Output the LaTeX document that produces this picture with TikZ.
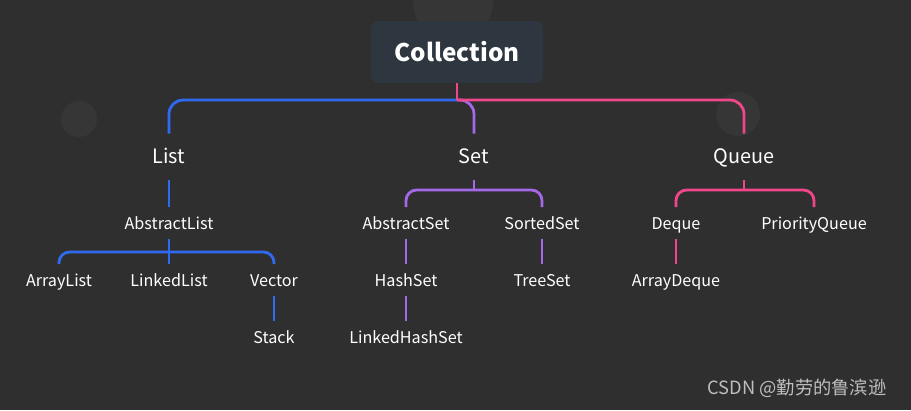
\documentclass[tikz,border=0pt]{standalone}
\usepackage{fontspec}
\setmainfont{Noto Sans CJK SC}
\definecolor{bgdark}{HTML}{2F2F2F}
\definecolor{blob}{HTML}{363636}
\definecolor{boxgrey}{HTML}{2E3740}
\definecolor{listblue}{HTML}{2F6BF0}
\definecolor{setpurple}{HTML}{A468E8}
\definecolor{queuepink}{HTML}{F0468A}
\definecolor{credgrey}{HTML}{BEBEBE}
\begin{document}
\begin{tikzpicture}[x=0.02cm,y=-0.02cm,
    topbox/.style={fill=boxgrey,rounded corners=4pt,minimum width=3.44cm,minimum height=1.24cm,
      text=white,font=\fontsize{13.8}{16}\selectfont\bfseries},
    kind/.style={text=white,inner sep=0pt,minimum height=0.92cm,text height=0.9em,text depth=0.2em,
      font=\fontsize{11.3}{14}\selectfont},
    cls/.style={text=white,inner sep=0pt,minimum height=0.62cm,text height=0.9em,text depth=0.2em,
      font=\fontsize{9.2}{12}\selectfont},
    link/.style={line width=1.6pt},
    bigcorner/.style={link,rounded corners=8pt},
    corner/.style={link,rounded corners=6pt}]
  % background and faint blobs
  \fill[bgdark](0,0) rectangle (911,410);
  \useasboundingbox (0,0) rectangle (911,410);
  \fill[blob](453,2) circle [radius=40];
  \fill[blob](79,119) circle [radius=18];
  \fill[blob](738,114) circle [radius=22];

  % nodes
  \node[topbox] (coll) at (457,52) {Collection};
  \node[kind] (list) at (169,157) {List};
  \node[kind] (set) at (474,157) {Set};
  \node[kind] (queue) at (744,157) {Queue};

  \node[cls] (abslist) at (169,223) {AbstractList};
  \node[cls] (arrlist) at (59,280) {ArrayList};
  \node[cls] (lnklist) at (169,280) {LinkedList};
  \node[cls] (vector) at (274,280) {Vector};
  \node[cls] (stack) at (274,337) {Stack};

  \node[cls] (absset) at (406,223) {AbstractSet};
  \node[cls] (sortset) at (542,223) {SortedSet};
  \node[cls] (hashset) at (406,280) {HashSet};
  \node[cls] (lnkhash) at (406,337) {LinkedHashSet};
  \node[cls] (treeset) at (542,280) {TreeSet};

  \node[cls] (deque) at (676,223) {Deque};
  \node[cls] (prioq) at (814,223) {PriorityQueue};
  \node[cls] (arrdeque) at (676,280) {ArrayDeque};

  \node[text=credgrey,font=\fontsize{10.4}{12}\selectfont] (credit) at (797,388) {CSDN @勤劳的鲁滨逊};

  % joints
  \coordinate (j0) at (457,100);
  \coordinate (j1) at (169,252);
  \coordinate (j2) at (474,190);
  \coordinate (j3) at (744,190);

  % top level
  \draw[bigcorner,listblue](j0) -| (list.north);
  \draw[bigcorner,setpurple](j0) -| (set.north);
  \draw[link,queuepink](coll.south) -- (j0);
  \draw[bigcorner,queuepink](j0) -| (queue.north);

  % list branch
  \draw[link,listblue](list.south) -- (abslist.north);
  \draw[link,listblue](abslist.south) -- (lnklist.north);
  \draw[corner,listblue](j1) -| (arrlist.north);
  \draw[corner,listblue](j1) -| (vector.north);
  \draw[link,listblue](vector.south) -- (stack.north);

  % set branch
  \draw[link,setpurple](set.south) -- (j2);
  \draw[corner,setpurple](j2) -| (absset.north);
  \draw[corner,setpurple](j2) -| (sortset.north);
  \draw[link,setpurple](absset.south) -- (hashset.north);
  \draw[link,setpurple](hashset.south) -- (lnkhash.north);
  \draw[link,setpurple](sortset.south) -- (treeset.north);

  % queue branch
  \draw[link,queuepink](queue.south) -- (j3);
  \draw[corner,queuepink](j3) -| (deque.north);
  \draw[corner,queuepink](j3) -| (prioq.north);
  \draw[link,queuepink](deque.south) -- (arrdeque.north);
\end{tikzpicture}
\end{document}
